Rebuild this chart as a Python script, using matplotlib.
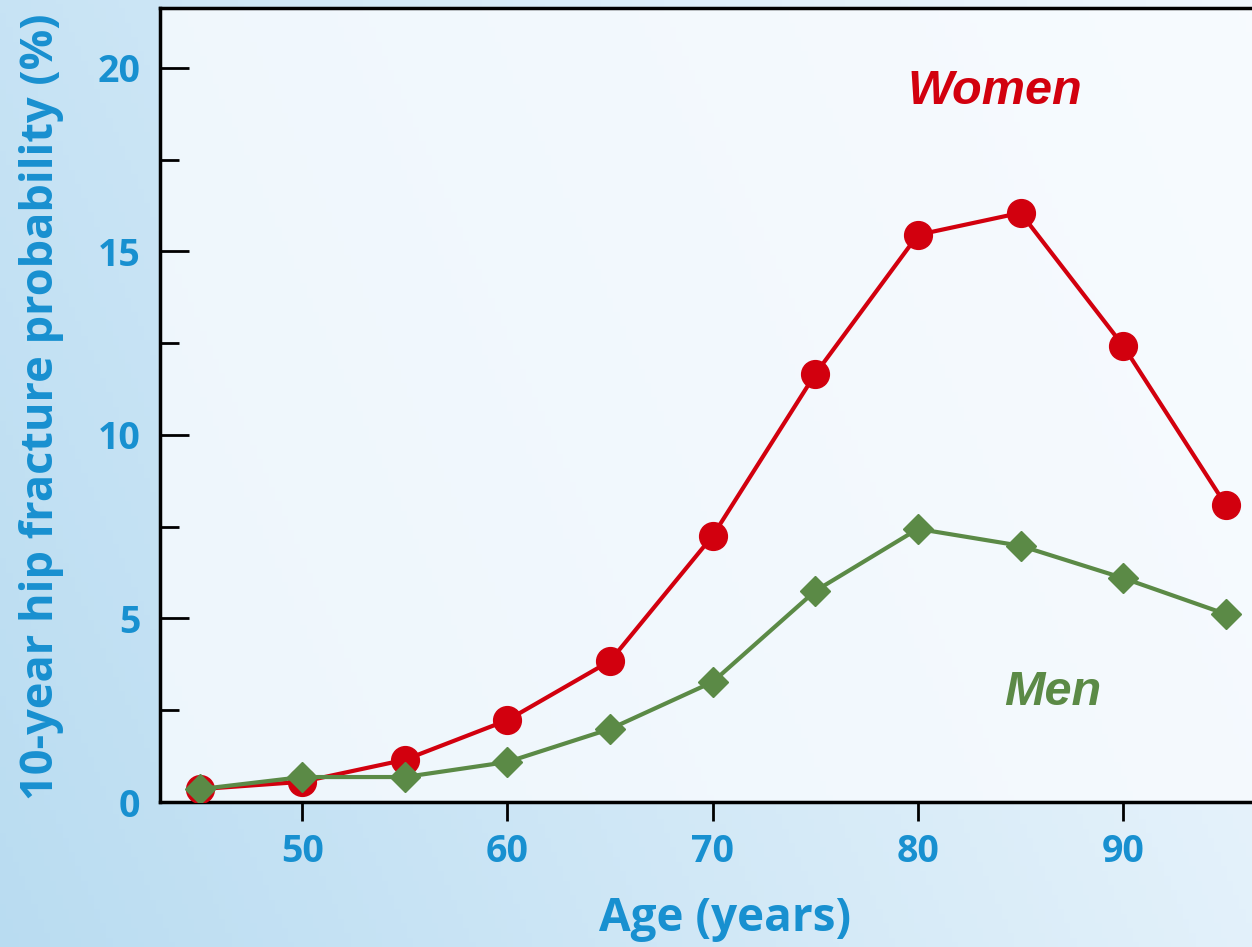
import numpy as np
import matplotlib
matplotlib.use("Agg")
import matplotlib.pyplot as plt
from matplotlib.ticker import MultipleLocator

ages = [45, 50, 55, 60, 65, 70, 75, 80, 85, 90, 95]
women = [0.35, 0.55, 1.15, 2.23, 3.84, 7.25, 11.66, 15.45, 16.05, 12.43, 8.09]
men = [0.35, 0.68, 0.68, 1.09, 1.99, 3.27, 5.75, 7.44, 6.98, 6.10, 5.12]
xticks = [50, 60, 70, 80, 90]
yticks = [0, 5, 10, 15, 20]

plt.rcParams['font.family'] = ['Open Sans', 'DejaVu Sans']
BLUE = '#1890d0'
RED = '#d2000e'
GREEN = '#5b8a46'

fig = plt.figure(figsize=(12.52, 9.47), dpi=100)

# background gradient
bg = fig.add_axes([0, 0, 1, 1], zorder=-10)
yy, xx = np.mgrid[0:1:200j, 0:1:200j]
g = np.clip(0.6 * (1 - xx) + 0.2 * (1 - yy) + 0.1, 0, 1)
c1 = np.array([0.97, 0.985, 1.0])
c2 = np.array([0.70, 0.85, 0.94])
img = c1[None, None, :] * (1 - g[..., None]) + c2[None, None, :] * g[..., None]
bg.imshow(img, extent=[0, 1, 0, 1], aspect='auto', origin='lower')
bg.axis('off')

ax = fig.add_axes([160 / 1252, 1 - 802 / 947, 1 - 160 / 1252 + 0.002, (802 - 8) / 947])
ax.set_facecolor((0.975, 0.99, 1.0, 0.8))

ax.plot(ages, women, color=RED, lw=3.0, marker='o', ms=20, zorder=3)
ax.plot(ages, men, color=GREEN, lw=3.0, marker='D', ms=15, zorder=4)

ax.set_xlim(43.07, 96.4)
ax.set_ylim(0, 21.63)
ax.set_xticks(xticks)
ax.set_yticks(yticks)
ax.yaxis.set_minor_locator(MultipleLocator(2.5))
ax.tick_params(axis='y', which='major', direction='in', length=21, width=2, labelsize=27,
               labelcolor=BLUE, pad=14)
ax.tick_params(axis='y', which='minor', direction='in', length=14, width=2)
ax.tick_params(axis='x', which='major', direction='out', length=14, width=2, labelsize=27,
               labelcolor=BLUE, pad=8)
for lab in ax.get_xticklabels() + ax.get_yticklabels():
    lab.set_fontweight('bold')

for s in ['left', 'bottom', 'top']:
    ax.spines[s].set_linewidth(2.5)
    ax.spines[s].set_color('black')
ax.spines['right'].set_visible(False)

ax.text(995 / 1252, 1 - 92 / 947, 'Women', transform=fig.transFigure, color=RED,
        fontsize=35, fontweight='bold', fontstyle='italic', ha='center', va='center',
        family=['Liberation Sans', 'DejaVu Sans'])
ax.text(1053 / 1252, 1 - 692 / 947, 'Men', transform=fig.transFigure, color=GREEN,
        fontsize=35, fontweight='bold', fontstyle='italic', ha='center', va='center',
        family=['Liberation Sans', 'DejaVu Sans'])

fig.text(725 / 1252, 1 - 918 / 947, 'Age (years)', color=BLUE, fontsize=33,
         fontweight='bold', ha='center', va='center')
fig.text(42 / 1252, 1 - 407 / 947, '10-year hip fracture probability (%)', color=BLUE,
         fontsize=32.5, fontweight='bold', ha='center', va='center', rotation=90)

fig.savefig('out.png', dpi=100)
